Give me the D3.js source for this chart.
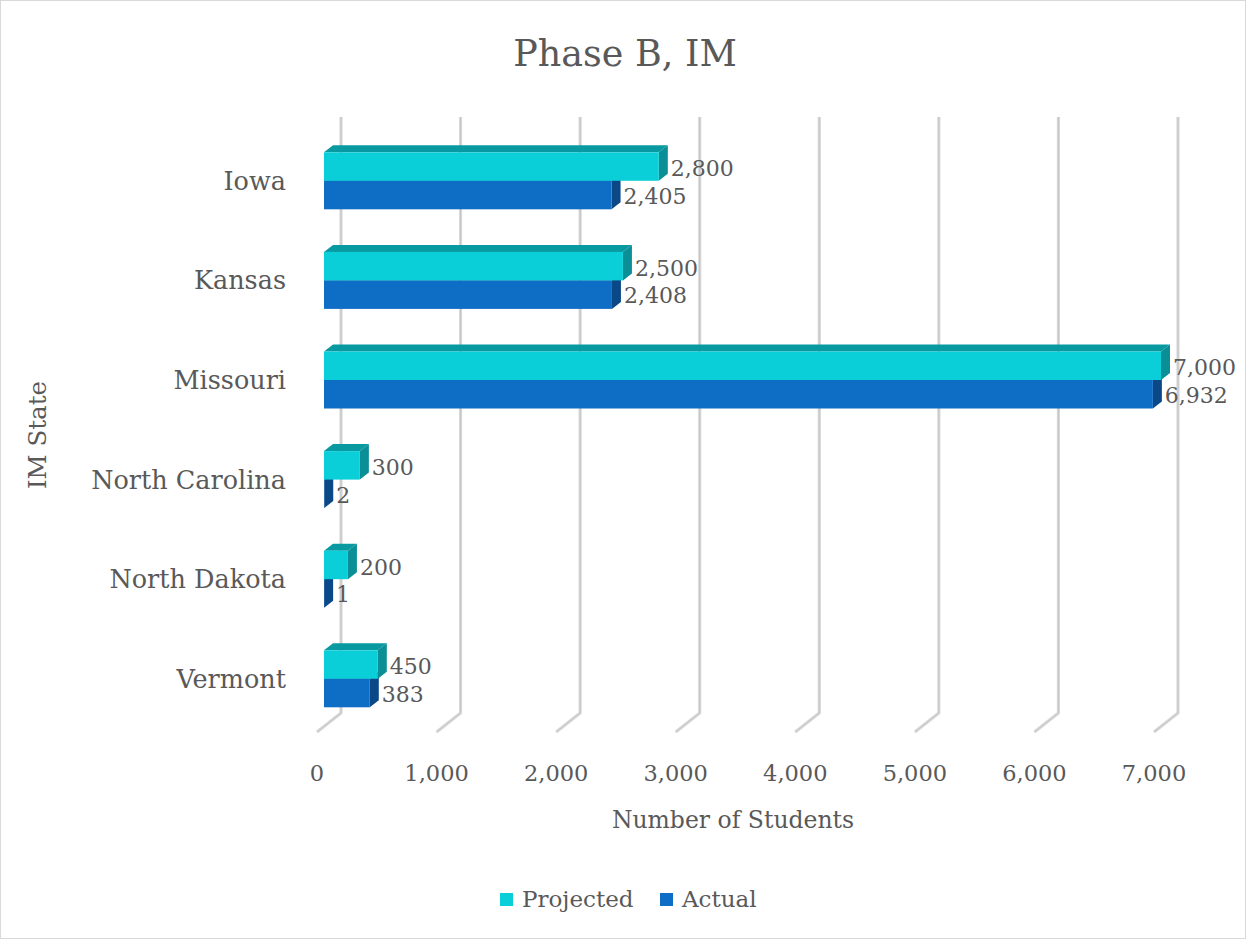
<!DOCTYPE html>
<html><head><meta charset="utf-8">
<script src="https://cdn.jsdelivr.net/npm/d3@7"></script>
<style>body{margin:0;background:#fff}text{font-family:"DejaVu Serif",serif;fill:#595959}</style>
</head><body>
<svg id="c" width="1247" height="940"></svg>
<script>
const states = ["Iowa","Kansas","Missouri","North Carolina","North Dakota","Vermont"];
const projected = [2800,2500,7000,300,200,450];
const actual = [2405,2408,6932,2,1,383];
const ticks = [0,1000,2000,3000,4000,5000,6000,7000];
const seriesNames = ["Projected","Actual"];

const svg = d3.select("#c");
svg.append("rect").attr("x",0.5).attr("y",0.5).attr("width",1245).attr("height",938).attr("fill","#fff").attr("stroke","#d9d9d9");

const x = d3.scaleLinear().domain([0,7000]).range([324,1161]);
const y = d3.scaleBand().domain(states).range([131,728.6]);
const fmt = d3.format(",");
const DX = 9, DY = -7, BH = 28.5;

const g = svg.append("g");
ticks.forEach(t=>{
  const bx = x(t)+17;
  const pts = [[bx,117],[bx,713],[x(t)-7,732]];
  g.append("polyline").attr("points",pts.map(p=>p.join(",")).join(" "))
   .attr("fill","none").attr("stroke","#d9d9d9").attr("stroke-width",3.2).attr("stroke-linejoin","round");
  g.append("polyline").attr("points",pts.map(p=>p.join(",")).join(" "))
   .attr("fill","none").attr("stroke","#c4c4c4").attr("stroke-width",1);
});
svg.append("g").selectAll("text").data(ticks).join("text")
  .attr("x",d=>x(d)-7).attr("y",781).attr("text-anchor","middle").attr("font-size",22.5).text(fmt);

const colors = {
  Projected:{front:"#0bcfd8",top:"#099aa1",side:"#0a8f96"},
  Actual:{front:"#0e6dc5",top:"#0b4f91",side:"#0b4887"}
};
function bar(v, top, c){
  const x0 = x(0), x1 = x(v);
  const gg = svg.append("g");
  gg.append("path").attr("d",`M${x0},${top}L${x0+DX},${top+DY}L${x1+DX},${top+DY}L${x1},${top}Z`).attr("fill",c.top);
  gg.append("path").attr("d",`M${x1},${top}L${x1+DX},${top+DY}L${x1+DX},${top+DY+BH}L${x1},${top+BH}Z`).attr("fill",c.side);
  gg.append("rect").attr("x",x0).attr("y",top).attr("width",Math.max(0,x1-x0)).attr("height",BH).attr("fill",c.front);
}
states.forEach((s,i)=>{
  const cy = y(s)+y.bandwidth()/2;
  bar(actual[i], cy, colors.Actual);
  bar(projected[i], cy-BH, colors.Projected);
});
states.forEach((s,i)=>{
  const cy = y(s)+y.bandwidth()/2;
  svg.append("text").attr("x",x(projected[i])+DX+3).attr("y",cy-BH/2+2).attr("dy","0.35em").attr("font-size",22).text(fmt(projected[i]));
  svg.append("text").attr("x",x(actual[i])+DX+3).attr("y",cy+BH/2+1).attr("dy","0.35em").attr("font-size",22).text(fmt(actual[i]));
});
svg.append("g").selectAll("text").data(states).join("text")
  .attr("x",286).attr("y",d=>y(d)+y.bandwidth()/2).attr("dy","0.35em").attr("text-anchor","end").attr("font-size",25.5).text(d=>d);

svg.append("text").attr("x",625).attr("y",66).attr("text-anchor","middle").attr("font-size",36.5).text("Phase B, IM");
svg.append("text").attr("x",733).attr("y",828).attr("text-anchor","middle").attr("font-size",23.5).text("Number of Students");
svg.append("text").attr("transform","translate(46,435) rotate(-90)").attr("text-anchor","middle").attr("font-size",24.5).text("IM State");

const leg = [{n:"Projected",c:colors.Projected.front,x:500},{n:"Actual",c:colors.Actual.front,x:660}];
leg.forEach(l=>{
  svg.append("rect").attr("x",l.x).attr("y",893).attr("width",13).attr("height",13).attr("fill",l.c);
  svg.append("text").attr("x",l.x+22).attr("y",899).attr("dy","0.35em").attr("font-size",23).text(l.n);
});
</script>
</body></html>
